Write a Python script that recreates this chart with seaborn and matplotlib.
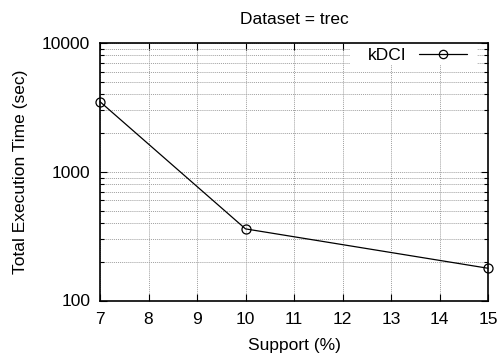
import matplotlib
matplotlib.use("Agg")
import matplotlib.pyplot as plt
import matplotlib.patches as mpatches
import seaborn as sns
import pandas as pd
from matplotlib.ticker import FixedLocator, LogLocator, NullFormatter

support = [7, 10, 15]
exec_time = [3500, 360, 178]
series = "kDCI"
x_ticks = [7, 8, 9, 10, 11, 12, 13, 14, 15]
y_ticks = [100, 1000, 10000]

sns.set_theme(style="white")
plt.rcParams['font.family'] = ['Liberation Sans', 'DejaVu Sans']
plt.rcParams['text.color'] = 'black'

FS = 12.5
df = pd.DataFrame({"Support": support, "Time": exec_time, "series": series})

fig = plt.figure(figsize=(4.99, 3.53), dpi=100)
ax = fig.add_axes([100/499, 1-300.5/353, 388/499, 257.5/353])

sns.lineplot(data=df, x="Support", y="Time", hue="series", palette=["black"],
             marker="o", markersize=6.5, markerfacecolor="none", markeredgecolor="black",
             markeredgewidth=0.9, linewidth=0.9, ax=ax, clip_on=False, zorder=5)

ax.set_yscale("log")
ax.set_xlim(7, 15)
ax.set_ylim(100, 10000)
ax.set_xticks(x_ticks)
ax.set_xticklabels([str(v) for v in x_ticks])
ax.yaxis.set_major_locator(FixedLocator(y_ticks))
ax.set_yticklabels([str(v) for v in y_ticks])
ax.yaxis.set_minor_locator(LogLocator(base=10, subs=range(2, 10)))
ax.yaxis.set_minor_formatter(NullFormatter())

ax.grid(True, which="major", axis="both", color="#a0a0a0", linestyle=(0, (1, 1)), linewidth=0.7)
ax.grid(True, which="minor", axis="y", color="#a0a0a0", linestyle=(0, (1, 1)), linewidth=0.7)
ax.set_axisbelow(True)

ax.tick_params(axis="both", which="both", direction="in", colors="black",
               labelsize=FS, top=True, right=True, left=True, bottom=True)
ax.tick_params(which="major", length=5, width=0.8)
ax.tick_params(which="minor", length=3, width=0.8)
ax.tick_params(axis="x", pad=8)
ax.tick_params(axis="y", pad=7)

for s in ax.spines.values():
    s.set_visible(True)
    s.set_color("black")
    s.set_linewidth(1.2)

ax.set_xlabel("Support (%)", fontsize=FS, color="black", labelpad=8)
ax.set_ylabel("Total Execution Time (sec)", fontsize=FS, color="black", labelpad=10)
ax.set_title("Dataset = trec", fontsize=FS, color="black", pad=14)

# white key background (gnuplot style), covers the grid behind the key
ax.add_patch(mpatches.Rectangle((0.644, 0.915), 0.327, 0.085, transform=ax.transAxes,
                                facecolor="white", edgecolor="none", zorder=1.5))

leg = ax.legend(loc="center right", frameon=False, fontsize=FS, markerfirst=False,
                handlelength=2.76, handletextpad=0.75, borderaxespad=0.0,
                borderpad=0.0, bbox_to_anchor=(0.946, 0.953))
leg.set_title(None)
for t in leg.get_texts():
    t.set_color("black")
for h in leg.legend_handles:
    h.set_markersize(6)

fig.savefig("out.png", dpi=100)
